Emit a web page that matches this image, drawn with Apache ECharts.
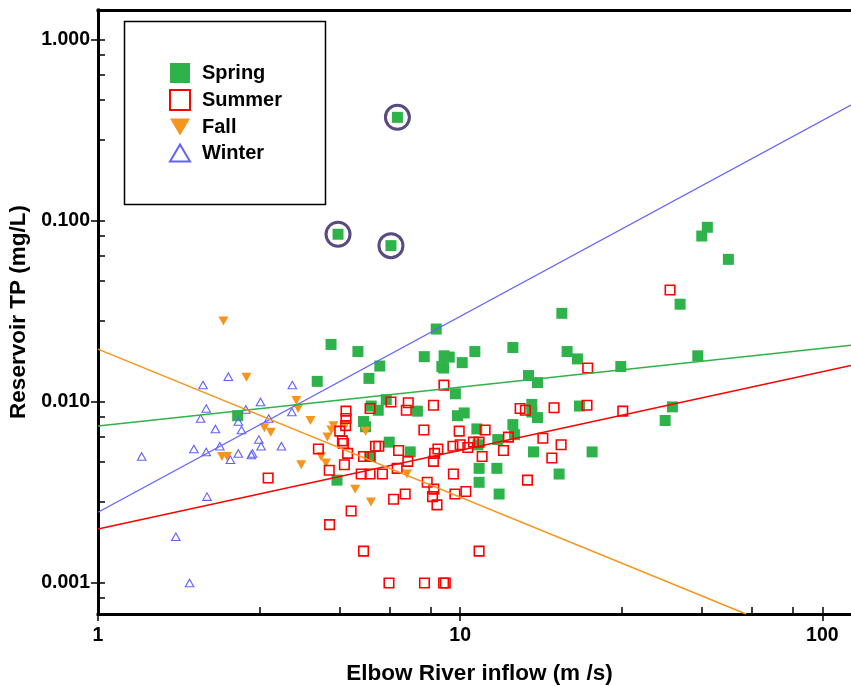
<!DOCTYPE html>
<html>
<head>
<meta charset="utf-8">
<script src="https://cdn.jsdelivr.net/npm/echarts@6/dist/echarts.min.js"></script>
<style>
  html, body { margin: 0; padding: 0; background: #fff; }
  #chart { width: 851px; height: 686px; }
</style>
</head>
<body>
<div id="chart"></div>
<script>
// Seasonal observations: [inflow m3/s, reservoir TP mg/L]
const spring = [
  [6.71,0.374],[4.60,0.0845],[6.44,0.0731],
  [4.40,0.0208],[4.03,0.0130],[2.43,0.0084],[4.57,0.0037],
  [5.22,0.0190],[6.00,0.0158],[5.60,0.0135],[8.59,0.0253],[7.96,0.0178],[9.03,0.0180],
  [9.33,0.0177],[8.90,0.0157],[9.00,0.0154],[10.13,0.0165],[10.98,0.0190],[9.70,0.0111],
  [5.68,0.0095],[5.94,0.0090],[6.25,0.0103],[7.62,0.0089],[9.83,0.0084],[10.26,0.0087],
  [5.41,0.0078],[5.48,0.0073],[6.37,0.0060],[7.28,0.0053],[5.64,0.0050],[11.12,0.0071],
  [11.20,0.0058],[12.70,0.0062],[11.28,0.0043],[11.28,0.0036],[12.63,0.0043],[12.81,0.0031],
  [19.09,0.0309],[13.98,0.0200],[19.74,0.0190],[21.08,0.0173],[27.77,0.0157],[15.44,0.0140],
  [16.35,0.0128],[15.77,0.0097],[15.77,0.0088],[16.35,0.0082],[21.35,0.0095],[13.98,0.0075],
  [14.12,0.0066],[15.94,0.0053],[18.76,0.0040],[23.14,0.0053],
  [48.15,0.0923],[46.47,0.0826],[55.03,0.0614],[40.48,0.0347],[45.30,0.0180],[38.55,0.0094],[36.82,0.0079]
];
// Spring samples flagged with a ring
const circledIdx = [0, 1, 2];

const summer = [
  [9.02,0.0124],[5.64,0.0092],[6.44,0.0100],[7.19,0.0099],[7.10,0.0090],[8.44,0.0096],
  [4.84,0.0089],[4.84,0.0081],[4.83,0.0074],[4.65,0.0069],[4.73,0.0061],[4.76,0.0059],
  [4.06,0.0055],[4.89,0.0052],[4.79,0.0045],[4.35,0.0042],[5.84,0.0057],[5.96,0.0057],
  [5.41,0.0050],[5.64,0.0050],[5.33,0.0040],[5.64,0.0040],[6.10,0.0040],[6.76,0.0054],
  [6.70,0.0043],[7.17,0.0047],[5.00,0.0025],[4.36,0.0021],[6.55,0.0029],[7.05,0.0031],
  [5.41,0.0015],[11.28,0.0015],[6.36,0.0010],[7.97,0.0010],[9.00,0.0010],[9.10,0.0010],
  [7.94,0.0070],[8.11,0.0036],[8.46,0.0033],[8.39,0.0030],[8.63,0.0027],[8.44,0.0047],
  [8.68,0.0055],[8.50,0.0052],[9.58,0.0040],[9.67,0.0031],[10.37,0.0032],[9.55,0.0057],
  [10.00,0.0058],[9.94,0.0069],[10.50,0.0056],[10.88,0.0060],[11.28,0.0060],[11.72,0.0070],
  [11.50,0.0050],[2.95,0.0038],
  [22.50,0.0154],[14.64,0.0092],[15.14,0.0090],[18.17,0.0093],[22.40,0.0096],[28.12,0.0089],
  [13.59,0.0064],[16.92,0.0063],[19.00,0.0058],[13.17,0.0054],[17.91,0.0049],[15.34,0.0037],
  [37.98,0.0416]
];

const fall = [
  [2.22,0.0280],[2.57,0.0137],[3.53,0.0102],[3.57,0.0092],[3.86,0.0079],[2.88,0.0072],
  [3.00,0.0068],[2.20,0.0050],[2.27,0.0050],[3.64,0.0045],[4.13,0.0050],[4.26,0.0046],
  [4.30,0.0064],[4.41,0.0070],[4.47,0.0074],[4.81,0.0074],[5.48,0.0069],[5.13,0.0033],
  [5.67,0.0028],[7.13,0.0040]
];

const winter = [
  [1.32,0.0050],[1.95,0.0124],[2.29,0.0138],[1.99,0.0092],[1.92,0.0081],[2.11,0.0071],
  [1.84,0.0055],[1.99,0.0053],[2.17,0.0057],[2.44,0.0078],[2.49,0.0070],[2.56,0.0091],
  [2.81,0.0100],[2.96,0.0081],[2.78,0.0062],[2.82,0.0057],[3.21,0.0057],[3.44,0.0124],
  [3.43,0.0088],[2.32,0.0048],[2.44,0.0052],[2.65,0.0051],[2.67,0.0052],[2.00,0.0030],
  [1.64,0.0018],[1.79,0.0010]
];

// Fitted power-law trend lines (end points)
const fitSpring = [[1,0.00737],[120,0.0206]];
const fitSummer = [[1,0.00199],[120,0.0159]];
const fitFall   = [[1,0.0196],[61.6,0.000674]];
const fitWinter = [[1,0.00246],[120,0.437]];

// Axis ticks
const xRange = [1, 120];
const yRange = [0.000674, 1.465];
const xMajor = [1, 10, 100];
const xMinor = [2.8, 4.65, 6.4, 8.3, 28, 46.5, 64, 83];
const yMajor = [0.001, 0.01, 0.1, 1];
const yMinor = [0.00083, 0.0028, 0.00465, 0.0064, 0.0083, 0.028, 0.0465, 0.064, 0.083, 0.28, 0.465, 0.64, 0.83];

const seasonNames = ['Spring', 'Summer', 'Fall', 'Winter'];
const xTitle = 'Elbow River inflow (m /s)';
const yTitle = 'Reservoir TP (mg/L)';

const FONT = "'Liberation Sans', Arial, Helvetica, sans-serif";
const C = { spring: '#2db34a', summer: '#ff0000', fall: '#f7941d', winter: '#6262ff', ring: '#594a80' };

const tickLine = { color: '#000', width: 1.5 };
const noSplit = { show: false };

const chart = echarts.init(document.getElementById('chart'), null, { renderer: 'canvas' });

chart.setOption({
  animation: false,
  backgroundColor: '#fff',
  grid: { left: 98, right: 0, top: 10, bottom: 72, containLabel: false, outerBoundsMode: 'none' },
  graphic: [{
    type: 'rect', left: 122, top: 19, z: 1,
    shape: { width: 201, height: 183 },
    style: { fill: 'none', stroke: '#000', lineWidth: 1.5 }
  }],
  legend: {
    orient: 'vertical', left: 164, top: 58,
    itemWidth: 20, itemHeight: 20, itemGap: 6,
    symbolKeepAspect: true,
    textStyle: { fontFamily: FONT, fontSize: 20, fontWeight: 'bold', color: '#000', padding: [0, 0, 0, 7] },
    data: [
      { name: seasonNames[0], icon: 'rect' },
      { name: seasonNames[1], icon: 'rect' },
      { name: seasonNames[2], icon: 'path://M0,0L20,0L10,17Z' },
      { name: seasonNames[3], icon: 'path://M10,0L20,17L0,17Z' }
    ]
  },
  xAxis: [
    {
      type: 'log', logBase: 10, min: xRange[0], max: xRange[1], position: 'bottom',
      axisLine: { show: true, onZero: false, lineStyle: { color: '#000', width: 3, cap: 'square' } },
      axisTick: { show: true, inside: false, length: 7, lineStyle: tickLine, customValues: xMajor },
      axisLabel: {
        customValues: xMajor, margin: 12,
        formatter: v => String(Math.round(v)),
        fontFamily: FONT, fontSize: 19.5, fontWeight: 'bold', color: '#000'
      },
      splitLine: noSplit,
      name: xTitle, nameLocation: 'middle', nameGap: 48,
      nameTextStyle: { fontFamily: FONT, fontSize: 22.5, fontWeight: 'bold', color: '#000', padding: [0, 0, 0, 10] }
    },
    {
      type: 'log', logBase: 10, min: xRange[0], max: xRange[1], position: 'bottom',
      axisLine: { show: false },
      axisTick: { show: true, inside: true, length: 7, lineStyle: tickLine, customValues: xMajor.concat(xMinor) },
      axisLabel: { show: false },
      splitLine: noSplit
    },
    {
      type: 'log', logBase: 10, min: xRange[0], max: xRange[1], position: 'top',
      axisLine: { show: true, lineStyle: { color: '#000', width: 3, cap: 'square' } },
      axisTick: { show: false }, axisLabel: { show: false }, splitLine: noSplit
    }
  ],
  yAxis: [
    {
      type: 'log', logBase: 10, min: yRange[0], max: yRange[1], position: 'left',
      axisLine: { show: true, onZero: false, lineStyle: { color: '#000', width: 3, cap: 'square' } },
      axisTick: { show: true, inside: false, length: 7, lineStyle: tickLine, customValues: yMajor },
      axisLabel: {
        customValues: yMajor, margin: 8, padding: [5, 0, 0, 0],
        formatter: v => v.toFixed(3),
        fontFamily: FONT, fontSize: 19.5, fontWeight: 'bold', color: '#000'
      },
      splitLine: noSplit,
      name: yTitle, nameLocation: 'middle', nameGap: 56, nameRotate: 90,
      nameTextStyle: { fontFamily: FONT, fontSize: 22.5, fontWeight: 'bold', color: '#000' }
    },
    {
      type: 'log', logBase: 10, min: yRange[0], max: yRange[1], position: 'left',
      axisLine: { show: false },
      axisTick: { show: true, inside: true, length: 7, lineStyle: tickLine, customValues: yMajor.concat(yMinor) },
      axisLabel: { show: false },
      splitLine: noSplit
    }
  ],
  series: [
    {
      name: seasonNames[0], type: 'scatter', data: spring, z: 3,
      symbol: 'rect', symbolSize: 11,
      itemStyle: { color: C.spring, opacity: 1 }
    },
    {
      name: seasonNames[1], type: 'scatter', data: summer, z: 4,
      symbol: 'rect', symbolSize: 9.5,
      itemStyle: { color: 'transparent', borderColor: C.summer, borderWidth: 1.6, opacity: 1 }
    },
    {
      name: seasonNames[2], type: 'scatter', data: fall, z: 3,
      symbol: 'triangle', symbolRotate: 180, symbolSize: [10, 9],
      itemStyle: { color: C.fall, opacity: 1 }
    },
    {
      name: seasonNames[3], type: 'scatter', data: winter, z: 4,
      symbol: 'triangle', symbolSize: [8.5, 7.5],
      itemStyle: { color: 'transparent', borderColor: C.winter, borderWidth: 1.1, opacity: 1 }
    },
    {
      type: 'scatter', data: circledIdx.map(i => spring[i]), z: 5, silent: true,
      symbol: 'circle', symbolSize: 24,
      itemStyle: { color: 'transparent', borderColor: C.ring, borderWidth: 3, opacity: 1 }
    },
    { type: 'line', data: fitWinter, z: 6, symbol: 'none', silent: true, lineStyle: { color: C.winter, width: 1.3 } },
    { type: 'line', data: fitSpring, z: 6, symbol: 'none', silent: true, lineStyle: { color: C.spring, width: 1.5 } },
    { type: 'line', data: fitSummer, z: 6, symbol: 'none', silent: true, lineStyle: { color: C.summer, width: 1.5 } },
    { type: 'line', data: fitFall,   z: 6, symbol: 'none', silent: true, lineStyle: { color: C.fall,   width: 1.5 } }
  ]
});
</script>
</body>
</html>
